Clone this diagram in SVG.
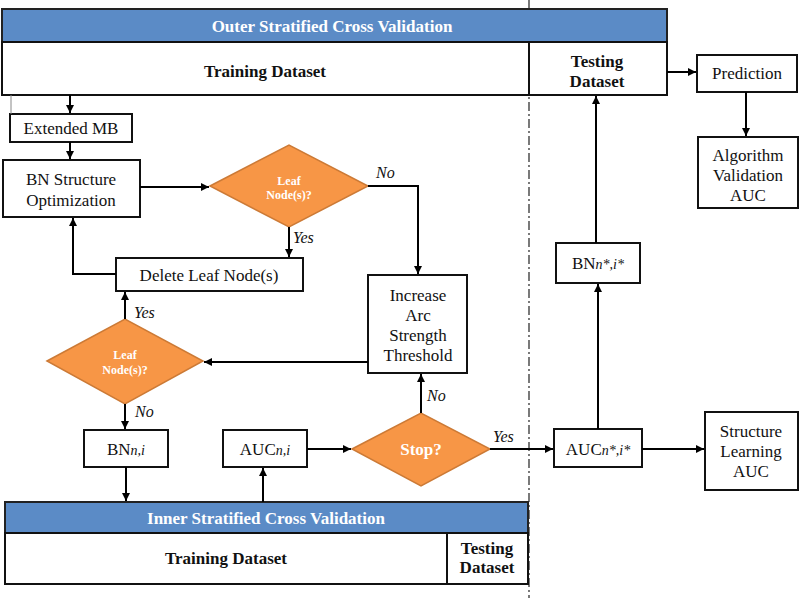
<svg xmlns="http://www.w3.org/2000/svg" width="800" height="598" viewBox="0 0 800 598" font-family="'Liberation Serif', 'DejaVu Serif', serif">
<defs>
<marker id="ah" viewBox="0 0 10 10" refX="10" refY="5" markerWidth="9" markerHeight="8" markerUnits="userSpaceOnUse" orient="auto">
<path d="M0,0 L10,5 L0,10 z" fill="#000"/>
</marker>
<style>
text{font-family:'Liberation Serif','DejaVu Serif',serif}
.box{fill:#fff;stroke:#111;stroke-width:2}
.hdr{fill:#5b8bc6;stroke:#222;stroke-width:2}
.dia{fill:#f79646;stroke:#cc7a36;stroke-width:1.5}
.t{font-size:17px;fill:#111;text-anchor:middle}
.b{font-size:17px;font-weight:bold;fill:#111;text-anchor:middle}
.w{font-weight:bold;fill:#fff;text-anchor:middle}
.lbl{font-size:16px;font-style:italic;fill:#111}
.sub{font-style:italic;font-size:14px}
.c{fill:none;stroke:#000;stroke-width:2}
</style>
</defs>
<rect width="800" height="598" fill="#fff"/>

<line x1="529" y1="0" x2="529" y2="598" stroke="#333" stroke-width="1.3" stroke-dasharray="9,3,2,3"/>

<g id="outer">
<rect class="hdr" x="2" y="9" width="665" height="33"/>
<text class="w" x="332" y="32" font-size="17">Outer Stratified Cross Validation</text>
<rect class="box" x="2" y="42" width="665" height="53"/>
<line x1="529" y1="42" x2="529" y2="95" stroke="#111" stroke-width="2"/>
<text class="b" x="265" y="77">Training Dataset</text>
<text class="b" x="597" y="67">Testing</text>
<text class="b" x="597" y="87">Dataset</text>
</g>

<g id="extended-mb">
<rect class="box" x="10" y="114" width="122" height="28"/>
<text class="t" x="71" y="134">Extended MB</text>
</g>

<g id="bn-opt">
<rect class="box" x="3" y="160" width="137" height="57"/>
<text class="t" x="71" y="185">BN Structure</text>
<text class="t" x="71" y="206">Optimization</text>
</g>

<g id="leaf1">
<polygon class="dia" points="210,186 289,145 368,186 289,227"/>
<text class="w" x="289" y="185" font-size="12">Leaf</text>
<text class="w" x="289" y="199" font-size="12">Node(s)?</text>
</g>

<g id="delete">
<rect class="box" x="116" y="258" width="187" height="33"/>
<text class="t" x="209" y="281">Delete Leaf Node(s)</text>
</g>

<g id="increase">
<rect class="box" x="368" y="275" width="99" height="98"/>
<text class="t" x="418" y="301">Increase</text>
<text class="t" x="418" y="321">Arc</text>
<text class="t" x="418" y="341">Strength</text>
<text class="t" x="418" y="361">Threshold</text>
</g>

<g id="leaf2">
<polygon class="dia" points="47,361 125,319 203,361 125,404"/>
<text class="w" x="125" y="359" font-size="12">Leaf</text>
<text class="w" x="125" y="374" font-size="12">Node(s)?</text>
</g>

<g id="bn-ni">
<rect class="box" x="84" y="430" width="84" height="37"/>
<text class="t" x="126" y="455">BN<tspan class="sub">n,i</tspan></text>
</g>

<g id="auc-ni">
<rect class="box" x="223" y="430" width="84" height="37"/>
<text class="t" x="265" y="455">AUC<tspan class="sub">n,i</tspan></text>
</g>

<g id="stop">
<polygon class="dia" points="352,449 421,413 490,449 421,486"/>
<text class="w" x="421" y="455" font-size="17">Stop?</text>
</g>

<g id="inner">
<rect class="hdr" x="5" y="502" width="523" height="31"/>
<text class="w" x="266" y="524" font-size="17">Inner Stratified Cross Validation</text>
<rect class="box" x="5" y="533" width="523" height="51"/>
<line x1="447" y1="533" x2="447" y2="584" stroke="#111" stroke-width="2"/>
<text class="b" x="226" y="564">Training Dataset</text>
<text class="b" x="487" y="554">Testing</text>
<text class="b" x="487" y="573">Dataset</text>
</g>

<g id="bn-star">
<rect class="box" x="556" y="243" width="84" height="40"/>
<text class="t" x="598" y="269">BN<tspan class="sub">n*,i*</tspan></text>
</g>

<g id="auc-star">
<rect class="box" x="554" y="429" width="88" height="38"/>
<text class="t" x="598" y="455">AUC<tspan class="sub">n*,i*</tspan></text>
</g>

<g id="prediction">
<rect class="box" x="697" y="55" width="100" height="37"/>
<text class="t" x="747" y="79">Prediction</text>
</g>

<g id="alg-auc">
<rect class="box" x="698" y="137" width="100" height="71"/>
<text class="t" x="748" y="161">Algorithm</text>
<text class="t" x="748" y="181">Validation</text>
<text class="t" x="748" y="201">AUC</text>
</g>

<g id="sl-auc">
<rect class="box" x="705" y="412" width="93" height="78"/>
<text class="t" x="751" y="437">Structure</text>
<text class="t" x="751" y="457">Learning</text>
<text class="t" x="751" y="477">AUC</text>
</g>

<g id="connectors">
<line x1="11" y1="95" x2="11" y2="114" stroke="#888" stroke-width="1"/>
<path class="c" d="M70,95 V113" marker-end="url(#ah)"/>
<path class="c" d="M70,142 V159" marker-end="url(#ah)"/>
<path class="c" d="M140,187 H209" marker-end="url(#ah)"/>
<path class="c" d="M368,186 H418 V274" marker-end="url(#ah)"/>
<path class="c" d="M289,227 V257" marker-end="url(#ah)"/>
<path class="c" d="M116,274 H73 V218" marker-end="url(#ah)"/>
<path class="c" d="M125,319 V292" marker-end="url(#ah)"/>
<path class="c" d="M368,362 H204" marker-end="url(#ah)"/>
<path class="c" d="M125,404 V429" marker-end="url(#ah)"/>
<path class="c" d="M126,467 V501" marker-end="url(#ah)"/>
<path class="c" d="M263,502 V468" marker-end="url(#ah)"/>
<path class="c" d="M307,449 H351" marker-end="url(#ah)"/>
<path class="c" d="M421,413 V374" marker-end="url(#ah)"/>
<path class="c" d="M490,449 H553" marker-end="url(#ah)"/>
<path class="c" d="M598,429 V284" marker-end="url(#ah)"/>
<path class="c" d="M596,243 V96" marker-end="url(#ah)"/>
<path class="c" d="M667,72 H696" marker-end="url(#ah)"/>
<path class="c" d="M746,92 V136" marker-end="url(#ah)"/>
<path class="c" d="M642,449 H704" marker-end="url(#ah)"/>
<text class="lbl" x="376" y="178">No</text>
<text class="lbl" x="293" y="243">Yes</text>
<text class="lbl" x="134" y="318">Yes</text>
<text class="lbl" x="135" y="417">No</text>
<text class="lbl" x="427" y="401">No</text>
<text class="lbl" x="493" y="442">Yes</text>
</g>
</svg>
